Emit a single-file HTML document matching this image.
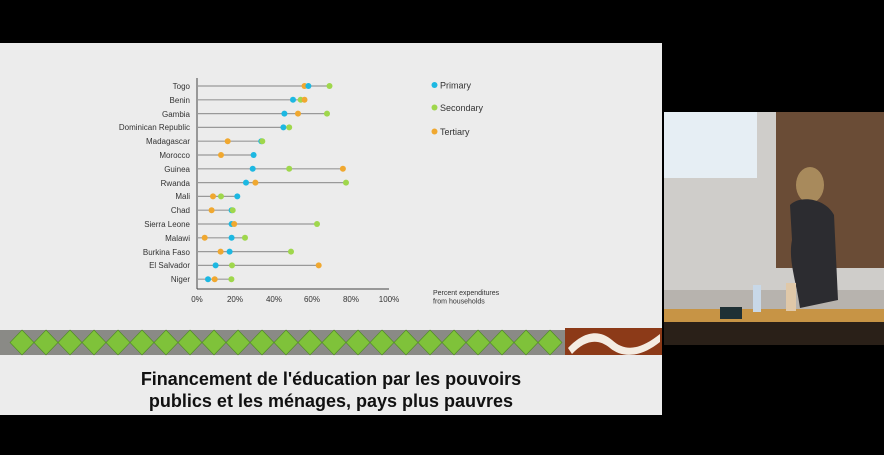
<!DOCTYPE html>
<html><head><meta charset="utf-8"><style>
body{margin:0;background:#000;width:884px;height:450px;overflow:hidden;font-family:"Liberation Sans",sans-serif}
</style></head><body>
<svg width="884" height="450" xmlns="http://www.w3.org/2000/svg" font-family="Liberation Sans, sans-serif">
<rect width="884" height="450" fill="#000"/>
<rect x="0" y="43" width="662" height="372" fill="#ececec"/>
<line x1="197" y1="78" x2="197" y2="289" stroke="#444" stroke-width="1"/>
<line x1="197" y1="289" x2="389" y2="289" stroke="#444" stroke-width="1"/>
<g font-size="8" fill="#333" text-anchor="middle">
<text x="197" y="302">0%</text><text x="235" y="302">20%</text><text x="274" y="302">40%</text><text x="312" y="302">60%</text><text x="351" y="302">80%</text><text x="389" y="302">100%</text>
</g>
<g font-size="8" fill="#333" text-anchor="end">
<text x="190" y="89">Togo</text><text x="190" y="103">Benin</text><text x="190" y="117">Gambia</text><text x="190" y="130">Dominican Republic</text><text x="190" y="144">Madagascar</text><text x="190" y="158">Morocco</text><text x="190" y="172">Guinea</text><text x="190" y="186">Rwanda</text><text x="190" y="199">Mali</text><text x="190" y="213">Chad</text><text x="190" y="227">Sierra Leone</text><text x="190" y="241">Malawi</text><text x="190" y="255">Burkina Faso</text><text x="190" y="268">El Salvador</text><text x="190" y="282">Niger</text>
</g>
<g stroke="#999" stroke-width="1.2">
<line x1="197" x2="329.5" y1="86" y2="86"/><line x1="197" x2="304.5" y1="99.8" y2="99.8"/><line x1="197" x2="327" y1="113.6" y2="113.6"/><line x1="197" x2="289.2" y1="127.4" y2="127.4"/><line x1="197" x2="262.3" y1="141.2" y2="141.2"/><line x1="197" x2="253.6" y1="155" y2="155"/><line x1="197" x2="342.9" y1="168.8" y2="168.8"/><line x1="197" x2="346" y1="182.6" y2="182.6"/><line x1="197" x2="237.3" y1="196.4" y2="196.4"/><line x1="197" x2="232.7" y1="210.2" y2="210.2"/><line x1="197" x2="317" y1="224" y2="224"/><line x1="197" x2="245" y1="237.8" y2="237.8"/><line x1="197" x2="291" y1="251.6" y2="251.6"/><line x1="197" x2="318.7" y1="265.4" y2="265.4"/><line x1="197" x2="231.4" y1="279.2" y2="279.2"/>
</g>
<g>
<circle cx="304.5" cy="86" r="3" fill="#f0a830"/><circle cx="308.4" cy="86" r="3" fill="#1db8e2"/><circle cx="329.5" cy="86" r="3" fill="#9fd74c"/>
<circle cx="293" cy="99.8" r="3" fill="#1db8e2"/><circle cx="300.7" cy="99.8" r="3" fill="#9fd74c"/><circle cx="304.5" cy="99.8" r="3" fill="#f0a830"/>
<circle cx="284.4" cy="113.6" r="3" fill="#1db8e2"/><circle cx="298" cy="113.6" r="3" fill="#f0a830"/><circle cx="327" cy="113.6" r="3" fill="#9fd74c"/>
<circle cx="283.4" cy="127.4" r="3" fill="#1db8e2"/><circle cx="289.2" cy="127.4" r="3" fill="#9fd74c"/>
<circle cx="227.7" cy="141.2" r="3" fill="#f0a830"/><circle cx="261.3" cy="141.2" r="3" fill="#1db8e2"/><circle cx="262.3" cy="141.2" r="3" fill="#9fd74c"/>
<circle cx="221" cy="155" r="3" fill="#f0a830"/><circle cx="253.6" cy="155" r="3" fill="#1db8e2"/>
<circle cx="252.7" cy="168.8" r="3" fill="#1db8e2"/><circle cx="289.2" cy="168.8" r="3" fill="#9fd74c"/><circle cx="342.9" cy="168.8" r="3" fill="#f0a830"/>
<circle cx="246" cy="182.6" r="3" fill="#1db8e2"/><circle cx="255.4" cy="182.6" r="3" fill="#f0a830"/><circle cx="346" cy="182.6" r="3" fill="#9fd74c"/>
<circle cx="213" cy="196.4" r="3" fill="#f0a830"/><circle cx="221" cy="196.4" r="3" fill="#9fd74c"/><circle cx="237.3" cy="196.4" r="3" fill="#1db8e2"/>
<circle cx="211.6" cy="210.2" r="3" fill="#f0a830"/><circle cx="231.6" cy="210.2" r="3" fill="#1db8e2"/><circle cx="232.7" cy="210.2" r="3" fill="#9fd74c"/>
<circle cx="231.6" cy="224" r="3" fill="#1db8e2"/><circle cx="234.2" cy="224" r="3" fill="#f0a830"/><circle cx="317" cy="224" r="3" fill="#9fd74c"/>
<circle cx="204.7" cy="237.8" r="3" fill="#f0a830"/><circle cx="231.6" cy="237.8" r="3" fill="#1db8e2"/><circle cx="245" cy="237.8" r="3" fill="#9fd74c"/>
<circle cx="220.6" cy="251.6" r="3" fill="#f0a830"/><circle cx="229.6" cy="251.6" r="3" fill="#1db8e2"/><circle cx="291" cy="251.6" r="3" fill="#9fd74c"/>
<circle cx="215.6" cy="265.4" r="3" fill="#1db8e2"/><circle cx="232" cy="265.4" r="3" fill="#9fd74c"/><circle cx="318.7" cy="265.4" r="3" fill="#f0a830"/>
<circle cx="208" cy="279.2" r="3" fill="#1db8e2"/><circle cx="214.7" cy="279.2" r="3" fill="#f0a830"/><circle cx="231.4" cy="279.2" r="3" fill="#9fd74c"/>
</g>
<circle cx="434.5" cy="85" r="3" fill="#1db8e2"/><text x="440" y="88.5" font-size="9" fill="#333">Primary</text>
<circle cx="434.5" cy="107.5" r="3" fill="#9fd74c"/><text x="440" y="111" font-size="9" fill="#333">Secondary</text>
<circle cx="434.5" cy="131.5" r="3" fill="#f0a830"/><text x="440" y="135" font-size="9" fill="#333">Tertiary</text>
<text x="433" y="295" font-size="7" fill="#333">Percent expenditures</text>
<text x="433" y="303.5" font-size="7" fill="#333">from households</text>
<rect x="0" y="330" width="565" height="25" fill="#8a8a86"/>
<g fill="#7fc23a" stroke="#4c8a20" stroke-width="0.6">
<polygon points="22,330 34,342.5 22,355 10,342.5"/><polygon points="46,330 58,342.5 46,355 34,342.5"/><polygon points="70,330 82,342.5 70,355 58,342.5"/><polygon points="94,330 106,342.5 94,355 82,342.5"/><polygon points="118,330 130,342.5 118,355 106,342.5"/><polygon points="142,330 154,342.5 142,355 130,342.5"/><polygon points="166,330 178,342.5 166,355 154,342.5"/><polygon points="190,330 202,342.5 190,355 178,342.5"/><polygon points="214,330 226,342.5 214,355 202,342.5"/><polygon points="238,330 250,342.5 238,355 226,342.5"/><polygon points="262,330 274,342.5 262,355 250,342.5"/><polygon points="286,330 298,342.5 286,355 274,342.5"/><polygon points="310,330 322,342.5 310,355 298,342.5"/><polygon points="334,330 346,342.5 334,355 322,342.5"/><polygon points="358,330 370,342.5 358,355 346,342.5"/><polygon points="382,330 394,342.5 382,355 370,342.5"/><polygon points="406,330 418,342.5 406,355 394,342.5"/><polygon points="430,330 442,342.5 430,355 418,342.5"/><polygon points="454,330 466,342.5 454,355 442,342.5"/><polygon points="478,330 490,342.5 478,355 466,342.5"/><polygon points="502,330 514,342.5 502,355 490,342.5"/><polygon points="526,330 538,342.5 526,355 514,342.5"/><polygon points="550,330 562,342.5 550,355 538,342.5"/>
</g>
<rect x="565" y="328" width="97" height="27" fill="#8c3a18"/>
<path d="M568,348 C585,330 600,330 612,340 C625,352 640,350 660,334 L660,342 C640,358 622,358 610,348 C598,338 585,340 572,354 Z" fill="#f4ece2"/>
<text x="331" y="385" font-size="18" font-weight="bold" fill="#111" text-anchor="middle">Financement de l'éducation par les pouvoirs</text>
<text x="331" y="407" font-size="18" font-weight="bold" fill="#111" text-anchor="middle">publics et les ménages, pays plus pauvres</text>
<rect x="664" y="112" width="220" height="233" fill="#cfcdca"/>
<rect x="664" y="112" width="93" height="66" fill="#e6eef4"/>
<rect x="776" y="112" width="108" height="156" fill="#6a4c36"/>
<rect x="664" y="290" width="220" height="20" fill="#b7b3ae"/>
<rect x="664" y="309" width="220" height="13" fill="#c79445"/>
<rect x="664" y="322" width="220" height="23" fill="#2a2018"/>
<ellipse cx="810" cy="185" rx="14" ry="18" fill="#a88a5c"/>
<path d="M790,205 C800,195 825,198 834,215 L838,300 L800,308 C796,280 788,260 792,240 Z" fill="#2c2c30"/>
<rect x="786" y="283" width="10" height="28" fill="#e0c8a8"/>
<rect x="753" y="285" width="8" height="27" fill="#c8d8e8"/>
<rect x="720" y="307" width="22" height="12" fill="#1f3035"/>
</svg>
</body></html>
